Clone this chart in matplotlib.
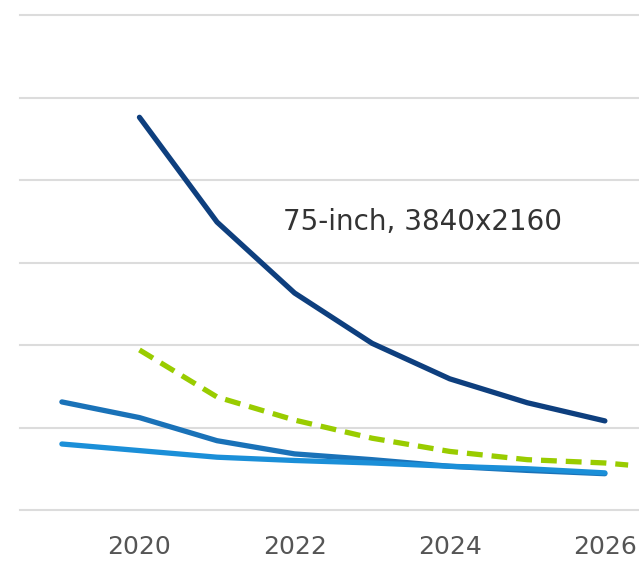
import matplotlib
matplotlib.use("Agg")
from matplotlib import pyplot as plt

# 연도
years = [2019, 2020, 2021, 2022, 2023, 2024, 2025, 2026]
years_75 = [2020, 2021, 2022, 2023, 2024, 2025, 2026]
years_trend = [2020, 2021, 2022, 2023, 2024, 2025, 2026, 2026.3]

# 가격 추이 (상대 값)
price_75 = [4.76, 3.49, 2.63, 2.02, 1.59, 1.30, 1.08]
price_mid = [1.31, 1.12, 0.84, 0.68, 0.61, 0.53, 0.48, 0.44]
price_low = [0.80, 0.72, 0.64, 0.60, 0.57, 0.53, 0.50, 0.45]
trend = [1.94, 1.37, 1.09, 0.87, 0.71, 0.61, 0.57, 0.545]

xtick_years = [2020, 2022, 2024, 2026]
label_75 = "75-inch, 3840x2160"

fig = plt.figure(figsize=(6.39, 5.62), dpi=100)
ax = fig.add_axes([20 / 639, 52 / 562, 619 / 639, 510 / 562])

# 가로 격자선
for g in range(7):
    ax.axhline(g, color="#dcdcdc", linewidth=1.5, zorder=0, clip_on=False)

ax.plot(years_75, price_75, color="#0e3f7e", linewidth=3.8, solid_capstyle="round",
        solid_joinstyle="round", zorder=3)
ax.plot(years, price_mid, color="#1a72b8", linewidth=3.8, solid_capstyle="round",
        solid_joinstyle="round", zorder=2)
ax.plot(years, price_low, color="#1b8fd8", linewidth=3.8, solid_capstyle="round",
        solid_joinstyle="round", zorder=2)
ax.plot(years_trend, trend, color="#99cc00", linewidth=3.8, linestyle=(0, (3.0, 1.7)),
        dash_capstyle="butt", zorder=4)

ax.text(2021.85, 3.49, label_75, fontsize=20, color="#333333", va="center", ha="left")

ax.set_xlim(2018.46, 2026.44)
ax.set_ylim(0, 510 / 82.5)
ax.set_xticks(xtick_years)
ax.set_xticklabels([str(y) for y in xtick_years])
ax.set_yticks([])
ax.tick_params(axis="x", length=0, pad=18, labelsize=18, labelcolor="#555555")
for s in ax.spines.values():
    s.set_visible(False)

plt.savefig("out.png", dpi=100)
